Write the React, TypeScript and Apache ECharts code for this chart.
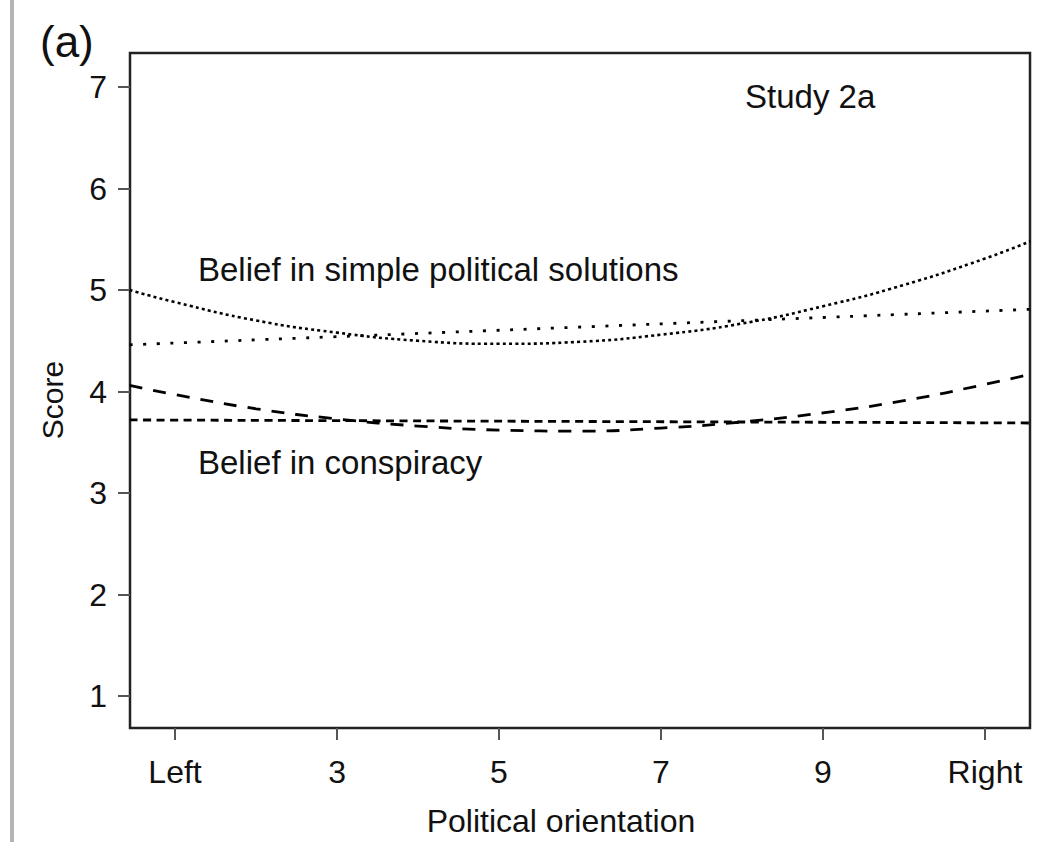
import React, { useEffect, useRef } from "react";
import * as echarts from "echarts";

// Political orientation (1 = Left, 11 = Right)
const xPoints = [0.44, 1, 2, 3, 4, 5, 6, 7, 8, 9, 10, 11, 11.56];
// Belief in simple political solutions (quadratic fit)
const simpleQuad = [5.0, 4.88, 4.7, 4.58, 4.5, 4.47, 4.49, 4.56, 4.67, 4.84, 5.05, 5.31, 5.48];
// Belief in simple political solutions (linear fit)
const simpleLinX = [0.44, 11.56];
const simpleLin = [4.46, 4.81];
// Belief in conspiracy (quadratic fit)
const conspQuad = [4.06, 3.97, 3.83, 3.73, 3.66, 3.62, 3.61, 3.64, 3.7, 3.79, 3.91, 4.07, 4.17];
// Belief in conspiracy (linear fit)
const conspLinX = [0.44, 11.56];
const conspLin = [3.72, 3.69];

const xTicks = [1, 3, 5, 7, 9, 11];
const xTickLabels: Record<number, string> = { 1: "Left", 3: "3", 5: "5", 7: "7", 9: "9", 11: "Right" };
const yTicks = [1, 2, 3, 4, 5, 6, 7];

const FONT = "'Liberation Sans', Arial, Helvetica, sans-serif";
const INK = "#111111";

function zip(xs: number[], ys: number[]) {
  return xs.map((x, i) => [x, ys[i]]);
}

export default function App() {
  const ref = useRef<HTMLDivElement>(null);

  useEffect(() => {
    document.body.style.margin = "0";
    if (!ref.current) return;
    const chart = echarts.init(ref.current, null, { renderer: "svg" });
    const lineSeries = (data: number[][], type: any, width: number) => ({
      type: "line",
      data,
      showSymbol: false,
      smooth: true,
      silent: true,
      lineStyle: { color: "#000", width, type, cap: "butt" },
    });
    const annot = (text: string, x: number, y: number, extra: any = {}) => ({
      type: "text",
      x,
      y,
      silent: true,
      style: {
        text,
        fontSize: 33,
        fontFamily: FONT,
        fill: INK,
        verticalAlign: "middle",
        ...extra,
      },
    });
    chart.setOption({
      animation: false,
      backgroundColor: "#ffffff",
      grid: {
        left: 130,
        top: 53,
        right: 9,
        bottom: 114,
        show: true,
        borderColor: "#222",
        borderWidth: 2.5,
        backgroundColor: "transparent",
      },
      xAxis: {
        type: "value",
        min: 0.444,
        max: 11.556,
        axisLine: { show: false },
        splitLine: { show: false },
        axisTick: {
          show: true,
          customValues: xTicks,
          length: 12,
          lineStyle: { color: "#555", width: 2 },
        },
        axisLabel: {
          customValues: xTicks,
          margin: 28,
          color: INK,
          fontSize: 32,
          fontFamily: FONT,
          formatter: (v: number) => xTickLabels[Math.round(v)] ?? String(v),
        },
      },
      yAxis: {
        type: "value",
        min: 0.685,
        max: 7.335,
        axisLine: { show: false },
        splitLine: { show: false },
        axisTick: {
          show: true,
          customValues: yTicks,
          length: 12,
          lineStyle: { color: "#555", width: 2 },
        },
        axisLabel: {
          customValues: yTicks,
          margin: 23,
          color: INK,
          fontSize: 32,
          fontFamily: FONT,
          formatter: (v: number) => String(Math.round(v)),
        },
      },
      series: [
        lineSeries(zip(xPoints, simpleQuad), [3, 3.2], 2.6),
        lineSeries(zip(simpleLinX, simpleLin), [3, 10.6], 2.8),
        lineSeries(zip(xPoints, conspQuad), [13, 11], 2.8),
        lineSeries(zip(conspLinX, conspLin), [8, 5.5], 2.8),
      ],
      graphic: [
        {
          type: "line",
          silent: true,
          shape: { x1: 12, y1: 0, x2: 12, y2: 842 },
          style: { stroke: "#b4b4b4", lineWidth: 4 },
        },
        {
          type: "text",
          left: 40,
          top: 19,
          silent: true,
          style: { text: "(a)", fontSize: 44, fontFamily: FONT, fill: INK },
        },
        annot("Belief in simple political solutions", 198, 269),
        annot("Belief in conspiracy", 198, 462),
        annot("Study 2a", 745, 96),
        annot("Political orientation", 561, 821, { align: "center", fontSize: 32 }),
        {
          type: "text",
          x: 52,
          y: 400,
          rotation: Math.PI / 2,
          silent: true,
          style: {
            text: "Score",
            fontSize: 30,
            fontFamily: FONT,
            fill: INK,
            align: "center",
            verticalAlign: "middle",
          },
        },
      ],
    });
    return () => chart.dispose();
  }, []);

  return <div ref={ref} style={{ width: 1039, height: 842 }} />;
}
